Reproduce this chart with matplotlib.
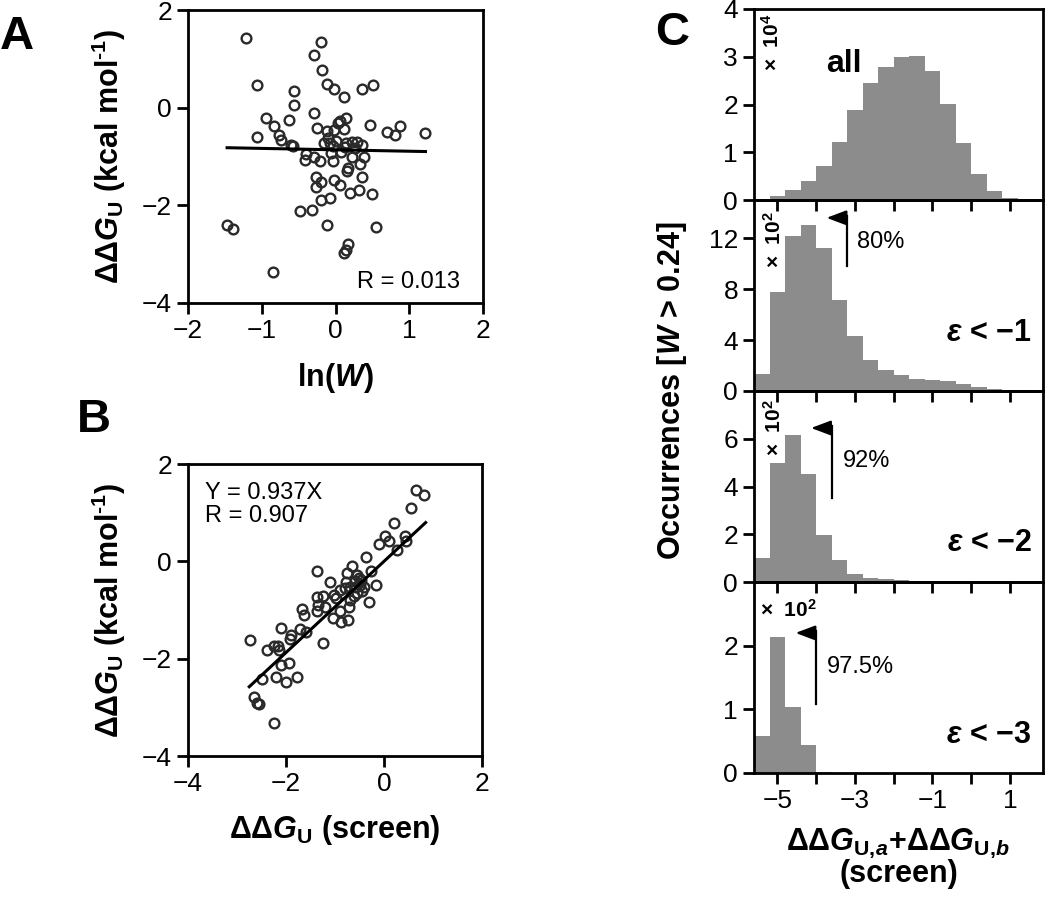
import numpy as np
import matplotlib
matplotlib.use("Agg")
import matplotlib.pyplot as plt

plt.rcParams['font.family'] = ['Liberation Sans', 'DejaVu Sans']
plt.rcParams['mathtext.fontset'] = 'custom'
plt.rcParams['mathtext.rm'] = 'Liberation Sans:bold'
plt.rcParams['mathtext.it'] = 'Liberation Sans:italic:bold'
plt.rcParams['mathtext.bf'] = 'Liberation Sans:bold'

# panel A: ln(W) vs ddG_U
pts_a = [(-1.21, 1.43), (-0.20, 1.35), (-0.29, 1.07), (-0.18, 0.77), (-1.07, 0.47),
         (-0.11, 0.49), (-0.02, 0.38), (0.12, 0.22), (0.36, 0.38), (0.51, 0.47),
         (-0.56, 0.34), (-0.56, 0.06), (-0.29, -0.10), (-0.94, -0.22), (-0.63, -0.26),
         (-0.83, -0.37), (-0.76, -0.56), (-0.74, -0.67), (-1.07, -0.60), (-0.61, -0.77),
         (-0.57, -0.79), (-0.25, -0.42), (-0.12, -0.48), (-0.02, -0.45), (0.04, -0.32),
         (0.06, -0.28), (0.14, -0.22), (0.12, -0.44), (0.47, -0.35), (0.70, -0.49),
         (0.81, -0.55), (0.87, -0.37), (1.22, -0.52), (-0.16, -0.73), (-0.07, -0.73),
         (0.00, -0.68), (0.14, -0.73), (0.23, -0.70), (0.29, -0.70), (0.36, -0.77),
         (0.13, -0.80), (-0.40, -0.95), (-0.41, -1.07), (-0.29, -1.00), (-0.21, -1.09),
         (-0.06, -0.93), (-0.03, -1.09), (0.22, -1.00), (0.39, -1.00), (0.33, -1.16),
         (0.17, -1.23), (0.16, -1.29), (0.36, -1.42), (-0.27, -1.42), (-0.19, -1.52),
         (-0.26, -1.63), (-0.02, -1.48), (0.06, -1.59), (0.19, -1.74), (0.32, -1.69),
         (0.49, -1.77), (-0.19, -1.89), (-0.08, -1.85), (-0.48, -2.12), (-0.32, -2.10),
         (-1.47, -2.40), (-1.39, -2.49), (-0.11, -2.40), (0.55, -2.45), (0.17, -2.79),
         (0.14, -2.92), (0.12, -2.98), (-0.85, -3.36), (-0.04, -0.78), (0.08, -0.90),
         (0.27, -0.82), (-0.10, -0.62)]
xa, ya = np.array(pts_a).T
fit_a = (-0.029, -0.863)   # slope, intercept
r_a = 0.013

# panel B: ddG_U (screen) vs ddG_U
pts_b = [(0.65, 1.46), (0.82, 1.37), (0.56, 1.09), (0.21, 0.79), (0.03, 0.52),
         (-0.11, 0.36), (0.10, 0.41), (0.43, 0.53), (0.44, 0.41), (0.27, 0.24),
         (-0.36, 0.09), (-0.65, -0.09), (-0.27, -0.19), (-1.37, -0.19), (-0.76, -0.24),
         (-0.55, -0.28), (-0.46, -0.38), (-0.17, -0.49), (-1.10, -0.43), (-0.89, -0.59),
         (-0.77, -0.43), (-0.69, -0.52), (-0.58, -0.52), (-0.50, -0.48), (-0.41, -0.52),
         (-1.03, -0.69), (-0.98, -0.76), (-1.36, -0.74), (-1.25, -0.72), (-1.34, -0.89),
         (-1.20, -0.94), (-1.37, -1.03), (-0.69, -0.79), (-0.62, -0.72), (-0.55, -0.65),
         (-0.30, -0.83), (-0.72, -0.93), (-0.89, -1.03), (-1.68, -0.98), (-1.64, -1.10),
         (-1.04, -1.17), (-0.88, -1.24), (-0.74, -1.20), (-2.11, -1.38), (-1.71, -1.40),
         (-1.59, -1.46), (-1.90, -1.52), (-1.92, -1.60), (-1.25, -1.67), (-2.73, -1.61),
         (-2.39, -1.83), (-2.24, -1.74), (-2.16, -1.74), (-2.14, -1.83), (-2.10, -2.12),
         (-1.93, -2.09), (-2.50, -2.41), (-2.20, -2.38), (-2.00, -2.47), (-1.77, -2.38),
         (-2.65, -2.79), (-2.59, -2.92), (-2.55, -2.93), (-2.25, -3.32), (-0.60, -0.40),
         (-0.45, -0.60), (-0.80, -0.55), (-0.52, -0.35)]
xb, yb = np.array(pts_b).T
slope_b = 0.937
r_b = 0.907

# panel C: histograms, bins of 0.4 starting at -5.6
bin_left = [-5.6, -5.2, -4.8, -4.4, -4.0, -3.6, -3.2, -2.8, -2.4, -2.0,
            -1.6, -1.2, -0.8, -0.4, 0.0, 0.4, 0.8, 1.2]
counts_all = [0, 0.08, 0.20, 0.40, 0.72, 1.22, 1.89, 2.46, 2.79, 2.99,
              3.02, 2.71, 2.02, 1.20, 0.54, 0.18, 0.05, 0]          # x 10^4
counts_e1 = [1.32, 7.81, 12.16, 13.06, 11.21, 7.15, 4.30, 2.43, 1.61, 1.27,
             0.92, 0.84, 0.82, 0.53, 0.29, 0.18, 0.10, 0.05]         # x 10^2
counts_e2 = [1.01, 4.99, 6.14, 4.52, 1.98, 0.91, 0.32, 0.18, 0.14, 0.07,
             0.04, 0.03, 0.02, 0.02, 0.01, 0.01, 0, 0]               # x 10^2
counts_e3 = [0.58, 2.13, 1.04, 0.44, 0.015, 0, 0, 0, 0, 0,
             0, 0, 0, 0, 0, 0, 0, 0]                                 # x 10^2
hist_labels = ['all', r'$\varepsilon$ < −1', r'$\varepsilon$ < −2', r'$\varepsilon$ < −3']
cutoffs = [None, -3.2, -3.6, -4.0]
percents = [None, '80%', '92%', '97.5%']

tick_fs = 19
label_fs = 22

fig = plt.figure(figsize=(10.5, 8.99), dpi=100)


def style(ax):
    for s in ax.spines.values():
        s.set_linewidth(2)
    ax.tick_params(direction='out', length=8, width=2, labelsize=tick_fs)


# ---- A
axA = fig.add_axes([188/1050, 1 - 303/899, 295/1050, 293/899])
axA.plot(xa, ya, 'o', mfc='none', mec='#2a2a2a', ms=7, mew=1.7)
xl = np.array([xa.min(), xa.max()])
axA.plot(xl, fit_a[0]*xl + fit_a[1], color='k', lw=2.2)
axA.set_xlim(-2, 2)
axA.set_ylim(-4, 2)
axA.set_xticks([-2, -1, 0, 1, 2])
axA.set_yticks([-4, -2, 0, 2])
axA.text(1.69, -3.69, 'R = %.3f' % r_a, ha='right', va='baseline', fontsize=17)
axA.set_xlabel('ln($W$)', fontsize=label_fs, fontweight='bold', labelpad=13)
axA.set_ylabel('ΔΔ$G_\\mathrm{U}$ (kcal mol$^{‐1}$)', fontsize=label_fs,
               fontweight='bold', labelpad=10)
style(axA)

# ---- B
axB = fig.add_axes([188/1050, 1 - 756/899, 294/1050, 292/899])
axB.plot(xb, yb, 'o', mfc='none', mec='#2a2a2a', ms=7, mew=1.7)
xl = np.array([-2.75, 0.85])
axB.plot(xl, slope_b*xl, color='k', lw=2.2)
axB.set_xlim(-4, 2)
axB.set_ylim(-4, 2)
axB.set_xticks([-4, -2, 0, 2])
axB.set_yticks([-4, -2, 0, 2])
axB.text(-3.66, 1.62, 'Y = %.3fX\nR = %.3f' % (slope_b, r_b), ha='left', va='top',
         fontsize=17, linespacing=1.05)
axB.set_xlabel('ΔΔ$G_\\mathrm{U}$ (screen)', fontsize=label_fs, fontweight='bold', labelpad=12)
axB.set_ylabel('ΔΔ$G_\\mathrm{U}$ (kcal mol$^{‐1}$)', fontsize=label_fs,
               fontweight='bold', labelpad=10)
style(axB)

# ---- C
counts = [counts_all, counts_e1, counts_e2, counts_e3]
ylims = [4, 15, 8, 3]
yticks = [[0, 1, 2, 3, 4], [0, 4, 8, 12], [0, 2, 4, 6], [0, 1, 2]]
scale_txt = ['×  10$^4$', '×  10$^2$', '×  10$^2$', '×  10$^2$']
top = 9
h = 191
axesC = []
for i in range(4):
    y0 = top + h*i
    ax = fig.add_axes([754/1050, 1 - (y0 + h)/899, 289/1050, h/899])
    ax.set_facecolor('none')
    ax.bar(bin_left, counts[i], width=0.4, align='edge', color='#8c8c8c', linewidth=0)
    ax.set_xlim(-5.6, 1.85)
    ax.set_ylim(0, ylims[i])
    ax.set_yticks(yticks[i])
    ax.set_xticks([-5, -3, -1, 1])
    ax.set_xticks([-4, -2, 0], minor=True)
    ax.tick_params(which='minor', direction='out', length=8, width=2)
    style(ax)
    if i < 3:
        ax.tick_params(labelbottom=False)
    if i == 0:
        ax.text(-3.75, 2.85, hist_labels[i], fontsize=23, fontweight='bold', ha='left', va='center')
        ax.text(-5.15, 3.3, scale_txt[i], rotation=90, fontsize=15, fontweight='bold',
                ha='center', va='center')
    else:
        yr = ylims[i]
        ax.text(1.55, [4.56, 1.63, 0.60][i-1], hist_labels[i], fontsize=22,
                fontweight='bold', ha='right', va='center')
        x0 = cutoffs[i]
        ylo, yhi = [(9.84, 13.6), (3.5, 6.45), (1.08, 2.2)][i-1]
        ax.plot([x0, x0], [ylo, yhi + 0.012*yr], color='k', lw=1.6)
        ax.annotate('', xy=(x0 - 0.53, yhi), xytext=(x0, yhi),
                    arrowprops=dict(arrowstyle='-|>,head_length=1.2,head_width=0.45',
                                    lw=1.6, color='k', shrinkA=0, shrinkB=0))
        px, py = [(-2.95, 11.7), (-3.31, 5.07), (-3.73, 1.66)][i-1]
        ax.text(px, py, percents[i], fontsize=17, ha='left', va='center')
        if i < 3:
            ax.text(-5.1, [11.9, 6.45][i-1], scale_txt[i], rotation=90, fontsize=15,
                    fontweight='bold', ha='center', va='center')
        else:
            ax.text(-5.45, 2.57, scale_txt[i], fontsize=15, fontweight='bold',
                    ha='left', va='center')
    axesC.append(ax)

axC = axesC[-1]
axC.set_xlabel('ΔΔ$G_{\\mathrm{U},\\!a}$+ΔΔ$G_{\\mathrm{U},\\!b}$\n(screen)', fontsize=label_fs,
               fontweight='bold', labelpad=10, linespacing=0.95)
fig.text(672/1050, 1 - 391/899, 'Occurrences [$W$ > 0.24]', rotation=90, fontsize=label_fs,
         fontweight='bold', ha='center', va='center')

# panel letters
fig.text(0/1050, 1 - 37/899, 'A', fontsize=34, fontweight='bold', ha='left', va='center')
fig.text(77/1050, 1 - 420/899, 'B', fontsize=34, fontweight='bold', ha='left', va='center')
fig.text(655/1050, 1 - 33/899, 'C', fontsize=34, fontweight='bold', ha='left', va='center')

fig.savefig('out.png', dpi=100)
